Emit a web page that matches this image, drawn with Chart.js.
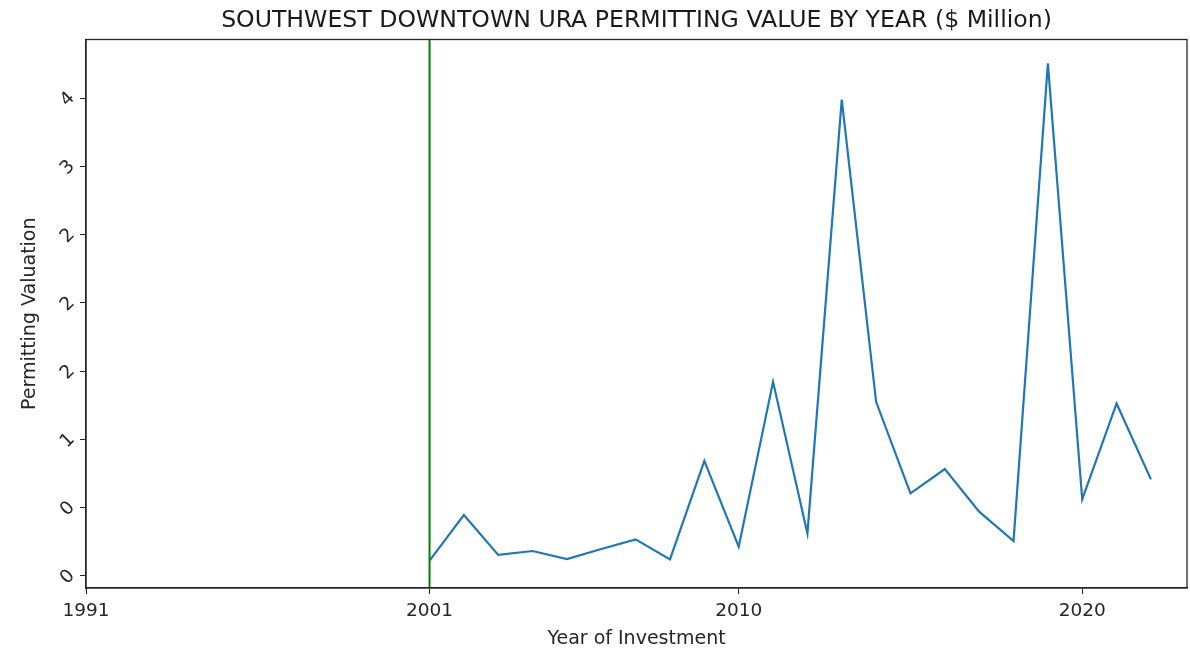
<!DOCTYPE html>
<html>
<head>
<meta charset="utf-8">
<script src="https://cdn.jsdelivr.net/npm/chart.js@4/dist/chart.umd.min.js"></script>
<style>
  html, body { margin: 0; padding: 0; background: #fff; }
  #wrap { width: 1190px; height: 649px; }
</style>
</head>
<body>
<div id="wrap"><canvas id="permitChart" width="1190" height="649"></canvas></div>
<script>
// data
const years = [2001, 2002, 2003, 2004, 2005, 2006, 2007, 2008, 2009, 2010, 2011,
               2012, 2013, 2014, 2015, 2016, 2017, 2018, 2019, 2020, 2021, 2022];
const valuation = [0.112, 0.447, 0.154, 0.183, 0.124, 0.198, 0.268, 0.122, 0.844, 0.215, 1.422,
                   0.312, 3.49, 1.276, 0.605, 0.783, 0.471, 0.256, 3.755, 0.561, 1.264, 0.708];
const markerYear = 2001;
const chartTitle = 'SOUTHWEST DOWNTOWN URA PERMITTING VALUE BY YEAR ($ Million)';

// axis ticks (labels as printed in the original)
const xTickValues = [1991, 2001, 2010, 2020];
const xTickLabels = ['1991', '2001', '2010', '2020'];
const yTickValues = [0, 0.5, 1, 1.5, 2, 2.5, 3, 3.5];
const yTickLabels = ['0', '0', '1', '2', '2', '2', '3', '4'];

Chart.defaults.font.family = '"DejaVu Sans", sans-serif';
Chart.defaults.color = '#262626';

// frame round the plot, green marker line, and the title centred over the axes
const framePlugin = {
    id: 'frame',
    afterDatasetsDraw(chart) {
        const {ctx, chartArea: a, scales} = chart;
        const x = scales.x.getPixelForValue(markerYear);
        ctx.save();
        ctx.strokeStyle = '#008000';
        ctx.lineWidth = 2;
        ctx.beginPath();
        ctx.moveTo(x, a.top);
        ctx.lineTo(x, a.bottom);
        ctx.stroke();
        ctx.strokeStyle = '#262626';
        ctx.lineWidth = 1.3;
        ctx.strokeRect(a.left, a.top, a.right - a.left, a.bottom - a.top);

        ctx.fillStyle = '#1a1a1a';
        ctx.font = '23.6px "DejaVu Sans", sans-serif';
        ctx.textAlign = 'center';
        ctx.textBaseline = 'alphabetic';
        ctx.fillText(chartTitle, (a.left + a.right) / 2, a.top - 12.5);
        ctx.restore();
    }
};

const ctx = document.getElementById('permitChart').getContext('2d');
new Chart(ctx, {
    type: 'line',
    data: {
        datasets: [{
            data: years.map((y, i) => ({x: y, y: valuation[i]})),
            borderColor: '#1f77b4',
            borderWidth: 2.2,
            pointRadius: 0,
            tension: 0,
            fill: false
        }]
    },
    options: {
        responsive: false,
        animation: false,
        layout: { padding: { left: 6, right: 3, top: 39.5, bottom: 0 } },
        plugins: {
            legend: { display: false },
            tooltip: { enabled: false },
            title: { display: false }
        },
        scales: {
            x: {
                type: 'linear',
                min: 1991,
                max: 2023.05,
                afterBuildTicks: scale => { scale.ticks = xTickValues.map(v => ({value: v})); },
                afterFit: scale => { scale.height = 61; },
                ticks: {
                    autoSkip: false,
                    maxRotation: 0,
                    padding: 6,
                    font: { size: 18.5 },
                    callback: (value, index) => xTickLabels[index]
                },
                grid: { drawOnChartArea: false, drawTicks: true, tickLength: 6, color: '#262626' },
                border: { display: true, color: '#262626', width: 1.3 },
                title: {
                    display: true,
                    text: 'Year of Investment',
                    font: { size: 19, lineHeight: 1.0 },
                    padding: { top: 0, bottom: 0 }
                }
            },
            y: {
                type: 'linear',
                min: -0.088,
                max: 3.93,
                afterBuildTicks: scale => { scale.ticks = yTickValues.map(v => ({value: v})); },
                afterFit: scale => { scale.width = 80; },
                ticks: {
                    autoSkip: false,
                    minRotation: 45,
                    maxRotation: 45,
                    padding: 8,
                    labelOffset: -3,
                    font: { size: 18.5 },
                    callback: (value, index) => yTickLabels[index]
                },
                grid: { drawOnChartArea: false, drawTicks: true, tickLength: 6, color: '#262626' },
                border: { display: true, color: '#262626', width: 1.3 },
                title: {
                    display: true,
                    text: 'Permitting Valuation',
                    font: { size: 19 },
                    padding: { top: 13, bottom: 0 }
                }
            }
        }
    },
    plugins: [framePlugin]
});
</script>
</body>
</html>
